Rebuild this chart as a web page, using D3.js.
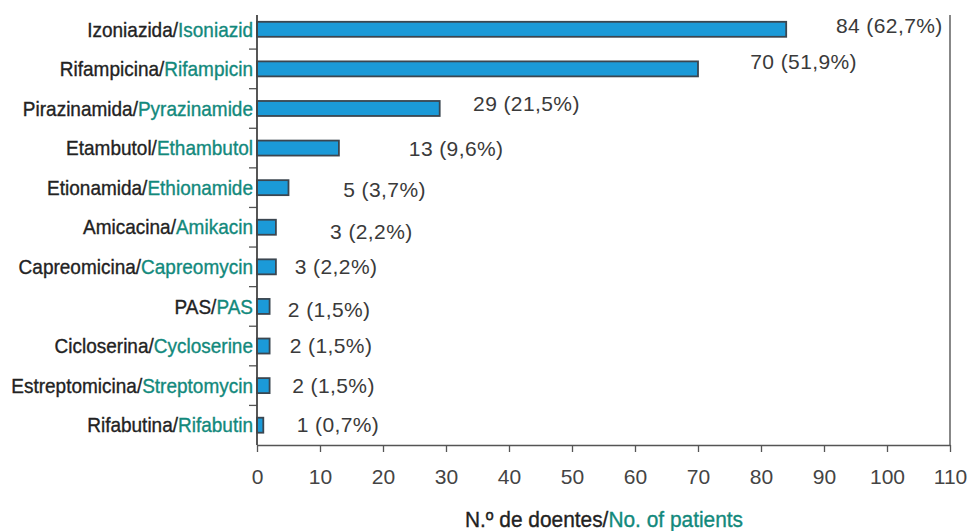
<!DOCTYPE html>
<html>
<head>
<meta charset="utf-8">
<script src="https://cdn.jsdelivr.net/npm/d3@7"></script>
<style>
body { margin: 0; background: #fff; }
.cat { font-family: "Liberation Sans", Arial, sans-serif; font-size: 20px; stroke-width: 0.35px; }
.val { font-family: "Liberation Sans", Arial, sans-serif; font-size: 21px; fill: #3a3a3a; letter-spacing: 0.4px; }
.tick text { font-family: "Liberation Sans", Arial, sans-serif; font-size: 21px; fill: #444; }
</style>
</head>
<body>
<div id="chart"></div>
<script>
// drug names, portuguese / english
var drugsPt = ["Izoniazida", "Rifampicina", "Pirazinamida", "Etambutol", "Etionamida", "Amicacina",
	"Capreomicina", "PAS", "Cicloserina", "Estreptomicina", "Rifabutina"];
var drugsEn = ["Isoniazid", "Rifampicin", "Pyrazinamide", "Ethambutol", "Ethionamide", "Amikacin",
	"Capreomycin", "PAS", "Cycloserine", "Streptomycin", "Rifabutin"];
var patients = [84, 70, 29, 13, 5, 3, 3, 2, 2, 2, 1];
var percents = ["62,7", "51,9", "21,5", "9,6", "3,7", "2,2", "2,2", "1,5", "1,5", "1,5", "0,7"];
var xTicks = [0, 10, 20, 30, 40, 50, 60, 70, 80, 90, 100, 110];

// the value labels were placed by hand in the original: start of each label in axis units
var labelAt = [91.9, 78.3, 34.3, 24.1, 13.7, 11.6, 6.0, 4.9, 5.2, 5.6, 6.3];
var labelDy = [-4, -7, -5, 1, 2, 4, 0, 3, 0, 0, -1];

var width = 971, height = 531;
var plotLeft = 257, plotRight = 950, plotTop = 9.5, plotBottom = 445;
var squeeze = 0.95; // the original uses a slightly narrow typeface

var svg = d3.select("#chart").append("svg")
	.attr("width", width)
	.attr("height", height);

var x = d3.scaleLinear().domain([0, 110]).range([plotLeft, plotRight]);
var y = d3.scaleBand().domain(d3.range(drugsPt.length)).range([plotTop, plotBottom]);

var barH = 15;
var green = "#12897c";
var ink = "#222";

// y axis ticks between the categories
var yTicks = d3.range(1, drugsPt.length);
svg.selectAll(".ytick")
	.data(yTicks)
	.enter().append("line")
	.attr("x1", plotLeft - 8)
	.attr("x2", plotLeft)
	.attr("y1", function(d) { return y(d); })
	.attr("y2", function(d) { return y(d); })
	.style("stroke", "#555")
	.style("stroke-width", 1.3);

// bars
svg.selectAll(".bar")
	.data(patients)
	.enter().append("rect")
	.attr("class", "bar")
	.attr("x", x(0))
	.attr("y", function(d, i) { return y(i) + y.bandwidth() / 2 - barH / 2; })
	.attr("width", function(d) { return x(d) - x(0); })
	.attr("height", barH)
	.style("fill", "#1b9ad8")
	.style("stroke", "#3b4650")
	.style("stroke-width", 1.8);

// value labels
svg.selectAll(".val")
	.data(patients)
	.enter().append("text")
	.attr("class", "val")
	.attr("x", function(d, i) { return x(labelAt[i]); })
	.attr("y", function(d, i) { return y(i) + y.bandwidth() / 2 + labelDy[i]; })
	.attr("dy", "0.35em")
	.text(function(d, i) { return d + " (" + percents[i] + "%)"; });

// category labels
var cat = svg.selectAll(".cat")
	.data(drugsPt)
	.enter().append("text")
	.attr("class", "cat")
	.attr("transform", function(d, i) {
		return "translate(" + (plotLeft - 4) + "," + (y(i) + y.bandwidth() / 2) + ") scale(" + squeeze + ",1)";
	})
	.attr("dy", "0.36em")
	.attr("text-anchor", "end");
cat.append("tspan").style("fill", ink).style("stroke", ink).text(function(d) { return d + "/"; });
cat.append("tspan").style("fill", green).style("stroke", green).text(function(d, i) { return drugsEn[i]; });

// x axis
var xAxis = svg.append("g")
	.attr("transform", "translate(0," + plotBottom + ")")
	.call(d3.axisBottom(x).tickValues(xTicks).tickSize(7).tickPadding(17).tickSizeOuter(0));
xAxis.select(".domain").style("stroke", "#555").style("stroke-width", 1.6);
xAxis.selectAll(".tick line").style("stroke", "#555").style("stroke-width", 1.3);

// left and right frame lines
svg.append("line")
	.attr("x1", plotLeft).attr("x2", plotLeft)
	.attr("y1", 15).attr("y2", plotBottom)
	.style("stroke", "#444").style("stroke-width", 1.8);
svg.append("line")
	.attr("x1", plotRight).attr("x2", plotRight)
	.attr("y1", 15).attr("y2", plotBottom)
	.style("stroke", "#555").style("stroke-width", 1.4);

// axis title
var title = svg.append("text")
	.attr("class", "cat")
	.attr("transform", "translate(604,527) scale(" + squeeze + ",1)")
	.attr("text-anchor", "middle")
	.style("font-size", "22px");
title.append("tspan").style("fill", ink).style("stroke", ink).text("N.º de doentes/");
title.append("tspan").style("fill", green).style("stroke", green).text("No. of patients");
</script>
</body>
</html>
